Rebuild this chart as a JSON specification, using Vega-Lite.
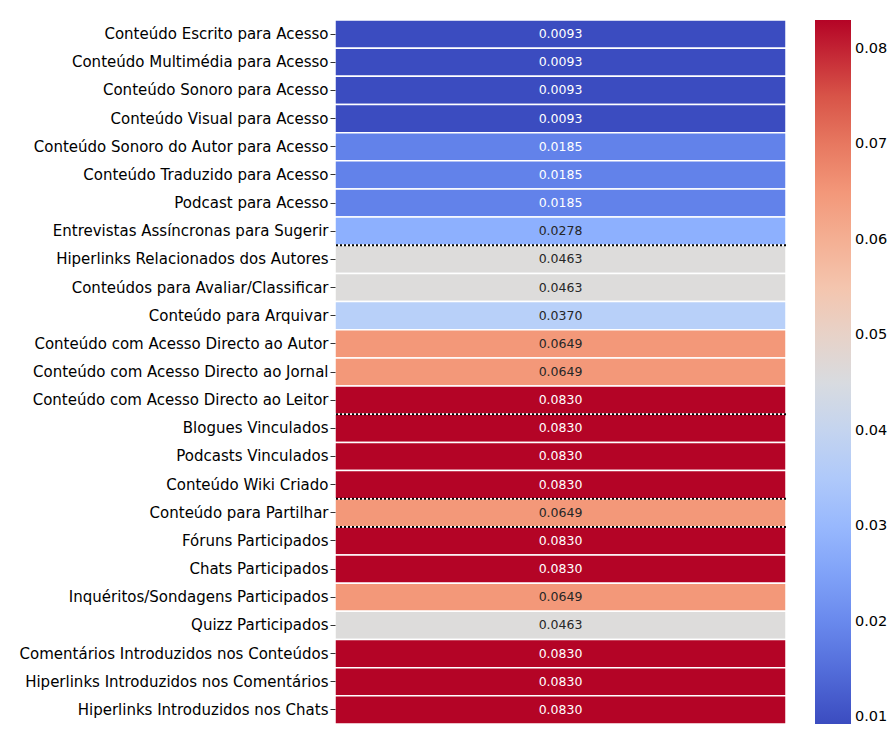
{
  "$schema": "https://vega.github.io/schema/vega-lite/v6.json",
  "width": 451,
  "height": 704,
  "autosize": {"type": "none"},
  "padding": {"left": 335, "top": 20, "right": 105, "bottom": 5},
  "background": "#ffffff",
  "config": {"font": "DejaVu Sans", "view": {"stroke": null}},
  "data": {
    "values": [
      {"item": "Conteúdo Escrito para Acesso", "value": 0.0093},
      {"item": "Conteúdo Multimédia para Acesso", "value": 0.0093},
      {"item": "Conteúdo Sonoro para Acesso", "value": 0.0093},
      {"item": "Conteúdo Visual para Acesso", "value": 0.0093},
      {"item": "Conteúdo Sonoro do Autor para Acesso", "value": 0.0185},
      {"item": "Conteúdo Traduzido para Acesso", "value": 0.0185},
      {"item": "Podcast para Acesso", "value": 0.0185},
      {"item": "Entrevistas Assíncronas para Sugerir", "value": 0.0278},
      {"item": "Hiperlinks Relacionados dos Autores", "value": 0.0463},
      {"item": "Conteúdos para Avaliar/Classificar", "value": 0.0463},
      {"item": "Conteúdo para Arquivar", "value": 0.0370},
      {"item": "Conteúdo com Acesso Directo ao Autor", "value": 0.0649},
      {"item": "Conteúdo com Acesso Directo ao Jornal", "value": 0.0649},
      {"item": "Conteúdo com Acesso Directo ao Leitor", "value": 0.0830},
      {"item": "Blogues Vinculados", "value": 0.0830},
      {"item": "Podcasts Vinculados", "value": 0.0830},
      {"item": "Conteúdo Wiki Criado", "value": 0.0830},
      {"item": "Conteúdo para Partilhar", "value": 0.0649},
      {"item": "Fóruns Participados", "value": 0.0830},
      {"item": "Chats Participados", "value": 0.0830},
      {"item": "Inquéritos/Sondagens Participados", "value": 0.0649},
      {"item": "Quizz Participados", "value": 0.0463},
      {"item": "Comentários Introduzidos nos Conteúdos", "value": 0.0830},
      {"item": "Hiperlinks Introduzidos nos Comentários", "value": 0.0830},
      {"item": "Hiperlinks Introduzidos nos Chats", "value": 0.0830}
    ]
  },
  "encoding": {
    "y": {
      "field": "item",
      "type": "nominal",
      "title": null,
      "scale": {
        "paddingInner": 0,
        "paddingOuter": 0,
        "domain": [
          "Conteúdo Escrito para Acesso",
          "Conteúdo Multimédia para Acesso",
          "Conteúdo Sonoro para Acesso",
          "Conteúdo Visual para Acesso",
          "Conteúdo Sonoro do Autor para Acesso",
          "Conteúdo Traduzido para Acesso",
          "Podcast para Acesso",
          "Entrevistas Assíncronas para Sugerir",
          "Hiperlinks Relacionados dos Autores",
          "Conteúdos para Avaliar/Classificar",
          "Conteúdo para Arquivar",
          "Conteúdo com Acesso Directo ao Autor",
          "Conteúdo com Acesso Directo ao Jornal",
          "Conteúdo com Acesso Directo ao Leitor",
          "Blogues Vinculados",
          "Podcasts Vinculados",
          "Conteúdo Wiki Criado",
          "Conteúdo para Partilhar",
          "Fóruns Participados",
          "Chats Participados",
          "Inquéritos/Sondagens Participados",
          "Quizz Participados",
          "Comentários Introduzidos nos Conteúdos",
          "Hiperlinks Introduzidos nos Comentários",
          "Hiperlinks Introduzidos nos Chats"
        ]
      },
      "axis": {
        "domain": false,
        "ticks": true,
        "tickSize": 5,
        "tickColor": "#333333",
        "tickWidth": 1,
        "labelPadding": 2,
        "labelFontSize": 15,
        "labelColor": "#000000",
        "labelLimit": 400
      }
    }
  },
  "layer": [
    {
      "mark": {"type": "rect", "stroke": "#ffffff", "strokeWidth": 1.5},
      "encoding": {
        "color": {
          "field": "value",
          "type": "quantitative",
          "scale": {
            "type": "linear",
            "interpolate": "rgb",
            "domain": [0.0093, 0.0185125, 0.027725, 0.0369375, 0.04615, 0.0553625, 0.064575, 0.0737875, 0.083],
            "range": ["#3b4cc0", "#6282ea", "#8db0fe", "#b8d0f9", "#dddcdc", "#f5c4ac", "#f49a7b", "#de604d", "#b40426"]
          },
          "legend": {
            "title": null,
            "orient": "right",
            "direction": "vertical",
            "offset": 29,
            "gradientLength": 704,
            "gradientThickness": 36,
            "gradientStrokeWidth": 0,
            "values": [0.01, 0.02, 0.03, 0.04, 0.05, 0.06, 0.07, 0.08],
            "format": ".2f",
            "labelFontSize": 14.5,
            "labelColor": "#000000",
            "labelOffset": 4,
            "labelOverlap": false
          }
        }
      }
    },
    {
      "mark": {"type": "text", "fontSize": 12.5, "baseline": "middle", "align": "center"},
      "encoding": {
        "text": {"field": "value", "type": "quantitative", "format": ".4f"},
        "color": {
          "condition": {"test": "datum.value < 0.022 || datum.value > 0.075", "value": "#ffffff"},
          "value": "#262626"
        }
      }
    },
    {
      "transform": [
        {"filter": {"field": "item", "oneOf": ["Hiperlinks Relacionados dos Autores", "Blogues Vinculados", "Conteúdo para Partilhar", "Fóruns Participados"]}}
      ],
      "mark": {"type": "rule", "color": "#000000", "strokeWidth": 2, "strokeDash": [2, 2]},
      "encoding": {
        "y": {"field": "item", "type": "nominal", "bandPosition": 0}
      }
    }
  ]
}
